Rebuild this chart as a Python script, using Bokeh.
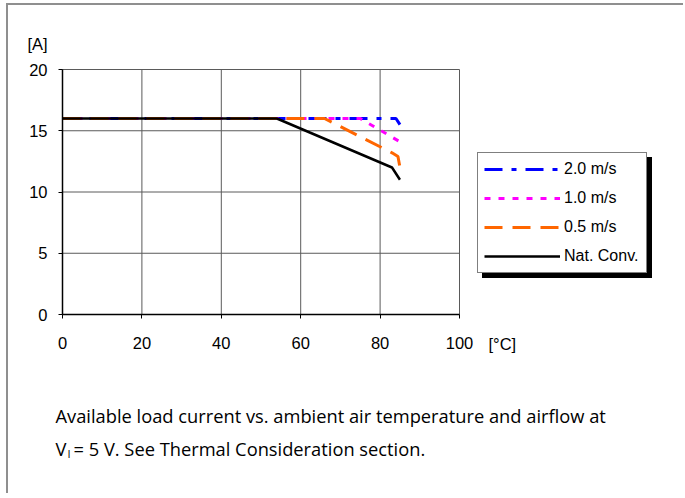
from bokeh.plotting import figure
from bokeh.models import (Range1d, FixedTicker, Legend, LegendItem, Label)
from bokeh.embed import file_html
from bokeh.resources import INLINE

# ---- data ----
x_20 = [0, 84, 85]
y_20 = [16, 16, 15.5]

x_10 = [0, 75, 85]
y_10 = [16, 16, 14.1]

x_05 = [0, 66, 83, 84.5, 85]
y_05 = [16, 16, 13.2, 12.9, 12.0]

x_nat = [0, 54, 83, 85]
y_nat = [16, 16, 12.0, 11.0]

x_ticks = [0, 20, 40, 60, 80, 100]
y_ticks = [0, 5, 10, 15, 20]

series_names = ["2.0 m/s", "1.0 m/s", "0.5 m/s", "Nat. Conv."]

y_unit = "[A]"
x_unit = "[°C]"
caption1 = "Available load current vs. ambient air temperature and airflow at"
caption2a = "V"
caption2b = "I"
caption2c = " = 5 V. See Thermal Consideration section."

TICK_FONT = "Liberation Sans"
CAP_FONT = "Open Sans"

# geometry of the canvas (pixels)
W, H = 677, 490
PLOT_L, PLOT_W = 54, 397     # data area left / width inside the canvas
PLOT_T, PLOT_H = 64, 245     # data area top / height inside the canvas
X0, X1 = x_ticks[0], x_ticks[-1]
Y0, Y1 = y_ticks[0], y_ticks[-1]
kx = PLOT_W / (X1 - X0)
ky = PLOT_H / (Y1 - Y0)
x_start = X0 - PLOT_L / kx
x_end = X0 + (W - PLOT_L) / kx
y_end = Y1 + PLOT_T / ky
y_start = Y0 - (H - PLOT_T - PLOT_H) / ky

p = figure(width=W, height=H, output_backend="svg", toolbar_location=None,
           x_range=Range1d(x_start, x_end), y_range=Range1d(y_start, y_end),
           min_border=0, min_border_left=0, min_border_right=0,
           min_border_top=0, min_border_bottom=0,
           styles={"border-left": "2px solid #8f8f8f", "border-top": "2px solid #8f8f8f",
                   "margin-left": "6px", "margin-top": "3px"})

p.background_fill_color = "white"
p.border_fill_color = "white"
p.outline_line_color = None
p.xgrid.visible = False
p.ygrid.visible = False

# grid lines (incl. the plot-area frame at 100 / 20)
p.segment(x0=x_ticks, y0=[Y0] * len(x_ticks), x1=x_ticks, y1=[Y1] * len(x_ticks),
          line_color="#5a5a5a", line_width=1)
p.segment(x0=[X0] * len(y_ticks), y0=y_ticks, x1=[X1] * len(y_ticks), y1=y_ticks,
          line_color="#5a5a5a", line_width=1)

for ax in (p.xaxis, p.yaxis):
    ax.axis_line_color = "black"
    ax.axis_line_width = 1.5
    ax.major_tick_line_color = "black"
    ax.major_tick_in = 0
    ax.major_tick_out = 4
    ax.minor_tick_line_color = None
    ax.major_label_text_font = TICK_FONT
    ax.major_label_text_font_size = "16.5px"
    ax.major_label_text_color = "black"
p.xaxis.ticker = FixedTicker(ticks=x_ticks)
p.yaxis.ticker = FixedTicker(ticks=y_ticks)
p.xaxis.bounds = (X0, X1)
p.yaxis.bounds = (Y0, Y1)
p.xaxis.fixed_location = Y0
p.yaxis.fixed_location = X0
p.xaxis.major_label_standoff = 18
p.yaxis.major_label_standoff = 11

r20 = p.line(x_20, y_20, line_color="#0000FF", line_width=3, line_dash="18 9 5 9")
r10 = p.line(x_10, y_10, line_color="#FF00FF", line_width=3, line_dash="6 8")
r05 = p.line(x_05, y_05, line_color="#FF6600", line_width=3, line_dash="18 10")
rnat = p.line(x_nat, y_nat, line_color="black", line_width=2.5)

renderers = [r20, r10, r05, rnat]

def make_legend(loc, shadow=False):
    names = [" "] * len(series_names) if shadow else series_names
    items = [LegendItem(label=n, renderers=[r]) for n, r in zip(names, renderers)]
    return Legend(items=items, location=loc, orientation="vertical",
                  glyph_width=76, glyph_height=20, label_height=20, label_width=76,
                  label_standoff=4, spacing=9, padding=6, margin=0,
                  label_text_font=TICK_FONT, label_text_font_size="16px",
                  label_text_color="black",
                  border_line_color="black", border_line_width=1,
                  background_fill_color="black" if shadow else "white",
                  background_fill_alpha=1.0)

# screen coords: from canvas left / canvas bottom
p.add_layout(make_legend((474, 217), shadow=True), "center")
p.add_layout(make_legend((469, 222)), "center")

def lab(x, y, text, size, font=TICK_FONT):
    p.add_layout(Label(x=x, y=y, x_units="screen", y_units="screen", text=text,
                       text_font=font, text_font_size=size, text_color="black",
                       text_baseline="middle", text_align="left"))

lab(19, 452, y_unit, "16.5px")
lab(480, 152, x_unit, "16.5px")

lab(47, 80, caption1, "18.3px", CAP_FONT)
lab(47, 47, caption2a, "18.3px", CAP_FONT)
lab(59, 42, caption2b, "11px", CAP_FONT)
lab(65, 47, caption2c, "18.3px", CAP_FONT)

open("out.html", "w").write(file_html(p, INLINE))
